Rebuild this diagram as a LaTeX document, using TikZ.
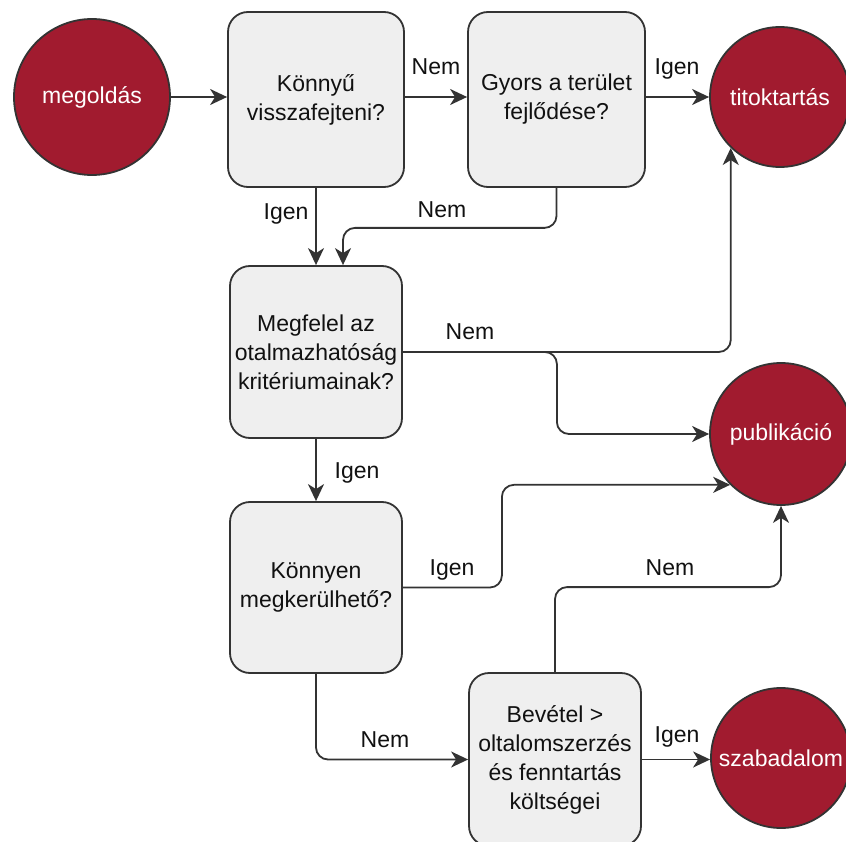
\documentclass[tikz,border=0pt]{standalone}
\usepackage{fontspec}
\setmainfont{Liberation Sans}
\usetikzlibrary{arrows.meta,calc}
\definecolor{cred}{HTML}{A11B2F}
\definecolor{cline}{HTML}{333333}
\definecolor{cbox}{HTML}{EFEFEF}
\definecolor{ctext}{HTML}{111111}
\begin{document}
\begin{tikzpicture}[x=1pt,y=-1pt,
  font=\fontsize{23}{29}\selectfont,
  qbox/.style={draw=cline, line width=1.8pt, fill=cbox, rounded corners=20pt,
    align=center, inner sep=0pt, text=ctext},
  endc/.style={circle, draw=cline, line width=1.8pt, fill=cred, text=white, inner sep=0pt},
  conn/.style={draw=cline, line width=1.8pt, rounded corners=12pt,
    -{Stealth[length=17pt,width=16pt,inset=5pt]}},
  lbl/.style={anchor=base, inner sep=0pt, text=ctext}
]
\useasboundingbox (0,0) rectangle (846,842);

\node[endc, minimum size=156pt] (mego) at (92,97) {megoldás};
\node[qbox, minimum width=176pt, minimum height=175pt] (b1) at (316,99.5) {Könnyű\\visszafejteni?};
\node[qbox, minimum width=177pt, minimum height=175pt] (b2) at (556.5,99.5) {Gyors a terület\\fejlődése?};
\node[endc, minimum size=140pt] (tit) at (780,97) {titoktartás};
\node[qbox, minimum width=172pt, minimum height=172pt] (b3) at (316,352) {Megfelel az\\otalmazhatóság\\kritériumainak?};
\node[endc, minimum size=142pt] (pub) at (781,434) {publikáció};
\node[qbox, minimum width=172pt, minimum height=171pt] (b4) at (316,587.5) {Könnyen\\megkerülhető?};
\node[qbox, minimum width=172pt, minimum height=173pt] (b5) at (555,759.5) {Bevétel >\\oltalomszerzés\\és fenntartás\\költségei};
\node[endc, minimum size=140pt] (szab) at (781,758) {szabadalom};

\draw[conn] (mego.east) -- (mego.east -| b1.west);
\draw[conn] (b1.east |- mego) -- (b2.west |- mego);
\draw[conn] (b2.east |- tit) -- (tit.west);
\draw[conn] (b1.south) -- (b3.north);
\draw[conn] (b2.south) -- ++(0,40) -| ([xshift=27pt]b3.north);
\draw[conn] (b3.east) -| (tit.226);
\draw[conn] (b3.east) -- ++(154,0) |- (pub.west);
\draw[conn] (b3.south) -- (b4.north);
\draw[conn] (b4.east) -- ++(99,0) |- (pub.south west);
\draw[conn] (b5.north) -- ++(0,-85) -| (pub.south);
\draw[conn] (b4.south) |- (b5.west);
\draw[conn] (b5.east) -- (b5.east -| szab.west);

\node[lbl] (l1) at (436,75) {Nem};
\node[lbl] (l2) at (677,75) {Igen};
\node[lbl] (l3) at (286,220) {Igen};
\node[lbl] (l4) at (442,218) {Nem};
\node[lbl] (l5) at (470,339) {Nem};
\node[lbl] (l6) at (357,478) {Igen};
\node[lbl] (l7) at (452,575) {Igen};
\node[lbl] (l8) at (670,575) {Nem};
\node[lbl] (l9) at (385,747) {Nem};
\node[lbl] (l10) at (677,742) {Igen};
\end{tikzpicture}
\end{document}
